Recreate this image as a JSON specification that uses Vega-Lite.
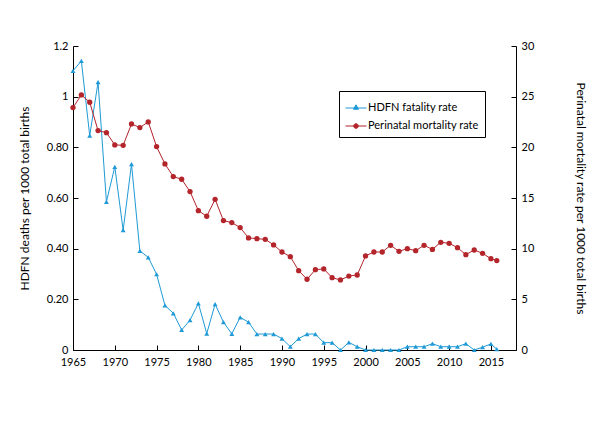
{
  "$schema": "https://vega.github.io/schema/vega-lite/v6.json",
  "width": 443,
  "height": 304,
  "autosize": "none",
  "padding": {"left": 73, "top": 46, "right": 84, "bottom": 80},
  "data": {
    "values": [
      {"year": 1965, "hdfn": 1.102, "perinatal": 23.92},
      {"year": 1966, "hdfn": 1.141, "perinatal": 25.17},
      {"year": 1967, "hdfn": 0.846, "perinatal": 24.45},
      {"year": 1968, "hdfn": 1.057, "perinatal": 21.65},
      {"year": 1969, "hdfn": 0.585, "perinatal": 21.45},
      {"year": 1970, "hdfn": 0.723, "perinatal": 20.24},
      {"year": 1971, "hdfn": 0.473, "perinatal": 20.2},
      {"year": 1972, "hdfn": 0.734, "perinatal": 22.31},
      {"year": 1973, "hdfn": 0.391, "perinatal": 21.95},
      {"year": 1974, "hdfn": 0.366, "perinatal": 22.51},
      {"year": 1975, "hdfn": 0.299, "perinatal": 20.07},
      {"year": 1976, "hdfn": 0.176, "perinatal": 18.36},
      {"year": 1977, "hdfn": 0.145, "perinatal": 17.11},
      {"year": 1978, "hdfn": 0.079, "perinatal": 16.85},
      {"year": 1979, "hdfn": 0.118, "perinatal": 15.63},
      {"year": 1980, "hdfn": 0.184, "perinatal": 13.75},
      {"year": 1981, "hdfn": 0.065, "perinatal": 13.2},
      {"year": 1982, "hdfn": 0.181, "perinatal": 14.87},
      {"year": 1983, "hdfn": 0.11, "perinatal": 12.77},
      {"year": 1984, "hdfn": 0.064, "perinatal": 12.57},
      {"year": 1985, "hdfn": 0.129, "perinatal": 12.08},
      {"year": 1986, "hdfn": 0.11, "perinatal": 11.06},
      {"year": 1987, "hdfn": 0.063, "perinatal": 10.99},
      {"year": 1988, "hdfn": 0.063, "perinatal": 10.92},
      {"year": 1989, "hdfn": 0.063, "perinatal": 10.37},
      {"year": 1990, "hdfn": 0.045, "perinatal": 9.67},
      {"year": 1991, "hdfn": 0.013, "perinatal": 9.21},
      {"year": 1992, "hdfn": 0.045, "perinatal": 7.83},
      {"year": 1993, "hdfn": 0.063, "perinatal": 6.98},
      {"year": 1994, "hdfn": 0.063, "perinatal": 7.93},
      {"year": 1995, "hdfn": 0.029, "perinatal": 8.0},
      {"year": 1996, "hdfn": 0.029, "perinatal": 7.14},
      {"year": 1997, "hdfn": 0, "perinatal": 6.91},
      {"year": 1998, "hdfn": 0.03, "perinatal": 7.3},
      {"year": 1999, "hdfn": 0.013, "perinatal": 7.4},
      {"year": 2000, "hdfn": 0, "perinatal": 9.28},
      {"year": 2001, "hdfn": 0, "perinatal": 9.67},
      {"year": 2002, "hdfn": 0, "perinatal": 9.67},
      {"year": 2003, "hdfn": 0, "perinatal": 10.33},
      {"year": 2004, "hdfn": 0, "perinatal": 9.74},
      {"year": 2005, "hdfn": 0.013, "perinatal": 10.0},
      {"year": 2006, "hdfn": 0.013, "perinatal": 9.8},
      {"year": 2007, "hdfn": 0.013, "perinatal": 10.33},
      {"year": 2008, "hdfn": 0.025, "perinatal": 9.93},
      {"year": 2009, "hdfn": 0.013, "perinatal": 10.63},
      {"year": 2010, "hdfn": 0.013, "perinatal": 10.53},
      {"year": 2011, "hdfn": 0.013, "perinatal": 10.1},
      {"year": 2012, "hdfn": 0.025, "perinatal": 9.41},
      {"year": 2013, "hdfn": 0, "perinatal": 9.87},
      {"year": 2014, "hdfn": 0.011, "perinatal": 9.54},
      {"year": 2015, "hdfn": 0.024, "perinatal": 9.01},
      {"year": 2015.7, "hdfn": 0.003, "perinatal": 8.82}
    ]
  },
  "encoding": {
    "x": {
      "field": "year",
      "type": "quantitative",
      "scale": {"domain": [1965, 2018], "nice": false, "zero": false},
      "axis": {
        "title": null,
        "values": [1965, 1970, 1975, 1980, 1985, 1990, 1995, 2000, 2005, 2010, 2015],
        "format": "d",
        "labelFlush": false,
        "labelOverlap": false,
        "labelPadding": 11
      }
    },
    "color": {
      "type": "nominal",
      "scale": {
        "domain": ["HDFN fatality rate", "Perinatal mortality rate"],
        "range": ["#1f9ad6", "#b3242b"]
      },
      "legend": {
        "title": null,
        "orient": "none",
        "legendX": 266,
        "legendY": 45,
        "strokeColor": "#000",
        "fillColor": "#fff",
        "padding": 6,
        "rowPadding": 2,
        "symbolSize": 441,
        "symbolStrokeWidth": 1,
        "symbolOffset": 0,
        "labelOffset": 1,
        "labelFontSize": 11,
        "labelColor": "#000",
        "encode": {
          "symbols": {
            "update": {
              "shape": {"signal": "datum.value == 'HDFN fatality rate' ? 'M-1,0H1M-0.24,0.12L0,-0.3L0.24,0.12Z' : 'M-1,0H1M-0.22,0A0.22,0.22,0,1,1,0.22,0A0.22,0.22,0,1,1,-0.22,0Z'"},
              "fill": {"signal": "scale('color', datum.value)"},
              "stroke": {"signal": "scale('color', datum.value)"},
              "opacity": {"value": 1}
            }
          }
        }
      }
    }
  },
  "layer": [
    {
      "mark": {
        "type": "line",
        "strokeWidth": 1,
        "point": {"shape": "triangle-up", "size": 24, "filled": true}
      },
      "encoding": {
        "y": {
          "field": "hdfn",
          "type": "quantitative",
          "scale": {"domain": [0, 1.2], "nice": false},
          "axis": {
            "orient": "left",
            "title": "HDFN deaths per 1000 total births",
            "values": [0, 0.2, 0.4, 0.6, 0.8, 1, 1.2],
            "labelExpr": "datum.value == 0 ? '0' : abs(datum.value - 1) < 0.001 ? '1' : abs(datum.value - 1.2) < 0.001 ? '1.2' : format(datum.value, '.2f')",
            "titlePadding": 15
          }
        },
        "color": {"datum": "HDFN fatality rate"}
      }
    },
    {
      "mark": {
        "type": "line",
        "strokeWidth": 1,
        "point": {"shape": "circle", "size": 28, "filled": true}
      },
      "encoding": {
        "y": {
          "field": "perinatal",
          "type": "quantitative",
          "scale": {"domain": [0, 30], "nice": false},
          "axis": {
            "orient": "right",
            "title": "Perinatal mortality rate per 1000 total births",
            "values": [0, 5, 10, 15, 20, 25, 30],
            "titleAngle": 90,
            "titlePadding": 40
          }
        },
        "color": {"datum": "Perinatal mortality rate"}
      }
    }
  ],
  "resolve": {"scale": {"y": "independent"}},
  "config": {
    "font": "Lato",
    "view": {"stroke": null},
    "axis": {
      "grid": false,
      "domainColor": "#000",
      "tickColor": "#000",
      "tickSize": -5,
      "labelPadding": 10,
      "labelFontSize": 11,
      "labelColor": "#000",
      "titleFontSize": 12,
      "titleFontWeight": "normal",
      "titleColor": "#000"
    }
  }
}
